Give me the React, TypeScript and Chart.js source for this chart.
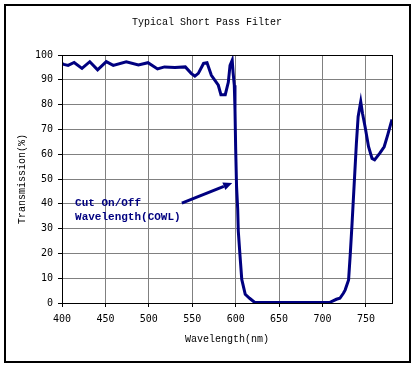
import React, { useEffect, useRef } from "react";
import { Chart, registerables } from "chart.js";

Chart.register(...registerables);

const TITLE = "Typical Short Pass Filter";
const X_TITLE = "Wavelength(nm)";
const Y_TITLE = "Transmission(%)";
const NOTE_LINES = ["Cut On/Off", "Wavelength(COWL)"];

const wavelength = [
  400, 402, 407, 414, 423, 432, 441, 451, 459, 474, 488, 499, 510, 518, 530, 542, 549, 553, 557, 563,
  567, 572, 580, 583, 588, 591.5, 593.5, 596, 597, 598.4, 599.2, 600, 601, 602.3, 603, 605, 607, 611, 616, 622,
  708, 716, 720, 724, 726, 730, 732, 734, 736, 739, 741, 744, 746, 749, 753, 757, 760, 766, 771, 775, 780,
];
const transmission = [
  96.6, 96.2, 95.8, 97.0, 94.6, 97.3, 94.0, 97.3, 95.8, 97.3, 96.0, 96.9, 94.4, 95.2, 95.0, 95.2, 92.5, 91.5, 92.6, 96.6,
  96.9, 91.8, 87.8, 84.0, 84.0, 89.0, 95.8, 97.9, 93.0, 87.8, 78.0, 62.0, 47.0, 38.0, 29.0, 19.0, 9.5, 3.5, 1.9, 0.2,
  0.2, 1.5, 1.9, 3.9, 5.2, 9.3, 20.0, 32.0, 45.0, 64.4, 75.1, 81.2, 76.5, 71.1, 63.0, 58.3, 57.7, 60.4, 63.0, 67.7, 74.0,
];

// annotation arrow: from (x,y) to (x,y) in data units
const arrowFrom = [538, 40.3];
const arrowTo = [596, 48.4];
const noteAt = [415, 40.3];

const FONT = "'Liberation Mono', 'DejaVu Sans Mono', monospace";
const TICK_FONT = "'DejaVu Sans Mono', monospace";
const NAVY = "#000080";

export default function App() {
  const ref = useRef<HTMLCanvasElement | null>(null);

  useEffect(() => {
    document.body.style.margin = "0";
    const canvas = ref.current!;
    const decor = {
      id: "decor",
      afterDraw(chart: any) {
        const ctx = chart.ctx as CanvasRenderingContext2D;
        const a = chart.chartArea;
        const xs = chart.scales.x;
        const ys = chart.scales.y;
        ctx.save();
        // outer frame
        ctx.strokeStyle = "#000";
        ctx.lineWidth = 2;
        ctx.strokeRect(5, 5, 405, 357);
        // plot border
        ctx.lineWidth = 1;
        ctx.strokeRect(Math.round(a.left) + 0.5, Math.round(a.top) + 0.5, Math.round(a.right - a.left), Math.round(a.bottom - a.top));
        // title
        ctx.fillStyle = "#000";
        ctx.font = `10px ${FONT}`;
        ctx.textAlign = "center";
        ctx.textBaseline = "middle";
        ctx.fillText(TITLE, 207, 22);
        // x title
        ctx.fillText(X_TITLE, (a.left + a.right) / 2, 339);
        // y title
        ctx.save();
        ctx.translate(22, (a.top + a.bottom) / 2);
        ctx.rotate(-Math.PI / 2);
        ctx.fillText(Y_TITLE, 0, 0);
        ctx.restore();
        // annotation arrow
        const x1 = xs.getPixelForValue(arrowFrom[0]);
        const y1 = ys.getPixelForValue(arrowFrom[1]);
        const x2 = xs.getPixelForValue(arrowTo[0]);
        const y2 = ys.getPixelForValue(arrowTo[1]);
        const ang = Math.atan2(y2 - y1, x2 - x1);
        const hl = 9;
        const bx = x2 - hl * Math.cos(ang);
        const by = y2 - hl * Math.sin(ang);
        ctx.strokeStyle = NAVY;
        ctx.fillStyle = NAVY;
        ctx.lineWidth = 3;
        ctx.beginPath();
        ctx.moveTo(x1, y1);
        ctx.lineTo(bx, by);
        ctx.stroke();
        ctx.beginPath();
        ctx.moveTo(x2, y2);
        ctx.lineTo(bx + 4 * Math.sin(ang), by - 4 * Math.cos(ang));
        ctx.lineTo(bx - 4 * Math.sin(ang), by + 4 * Math.cos(ang));
        ctx.closePath();
        ctx.fill();
        // annotation text
        ctx.font = `bold 11px ${FONT}`;
        ctx.textAlign = "left";
        const tx = xs.getPixelForValue(noteAt[0]);
        const ty = ys.getPixelForValue(noteAt[1]);
        NOTE_LINES.forEach((t, i) => ctx.fillText(t, tx, ty + i * 14));
        ctx.restore();
      },
    };

    const chart = new Chart(canvas, {
      type: "line",
      data: {
        datasets: [
          {
            data: wavelength.map((w, i) => ({ x: w, y: transmission[i] })),
            borderColor: NAVY,
            borderWidth: 3,
            pointRadius: 0,
            tension: 0,
            fill: false,
          },
        ],
      },
      options: {
        responsive: false,
        animation: false,
        events: [],
        layout: { padding: { left: 0, right: 24, top: 55, bottom: 0 } },
        plugins: { legend: { display: false }, title: { display: false }, tooltip: { enabled: false } },
        scales: {
          x: {
            type: "linear",
            min: 400,
            max: 780,
            afterFit: (s: any) => {
              s.height = 64;
            },
            ticks: { stepSize: 50, includeBounds: false, color: "#000", font: { family: TICK_FONT, size: 10 }, padding: 6, maxRotation: 0 },
            grid: { color: "#808080", tickColor: "#000", tickLength: 4, lineWidth: 1 },
            border: { color: "#000", width: 1 },
          },
          y: {
            type: "linear",
            min: 0,
            max: 100,
            afterFit: (s: any) => {
              s.width = 62;
            },
            ticks: { stepSize: 10, color: "#000", font: { family: TICK_FONT, size: 10 }, padding: 5 },
            grid: { color: "#808080", tickColor: "#000", tickLength: 4, lineWidth: 1 },
            border: { color: "#000", width: 1 },
          },
        },
      },
      plugins: [decor],
    } as any);
    return () => chart.destroy();
  }, []);

  return <canvas ref={ref} width={416} height={367} style={{ display: "block", width: 416, height: 367 }} />;
}
